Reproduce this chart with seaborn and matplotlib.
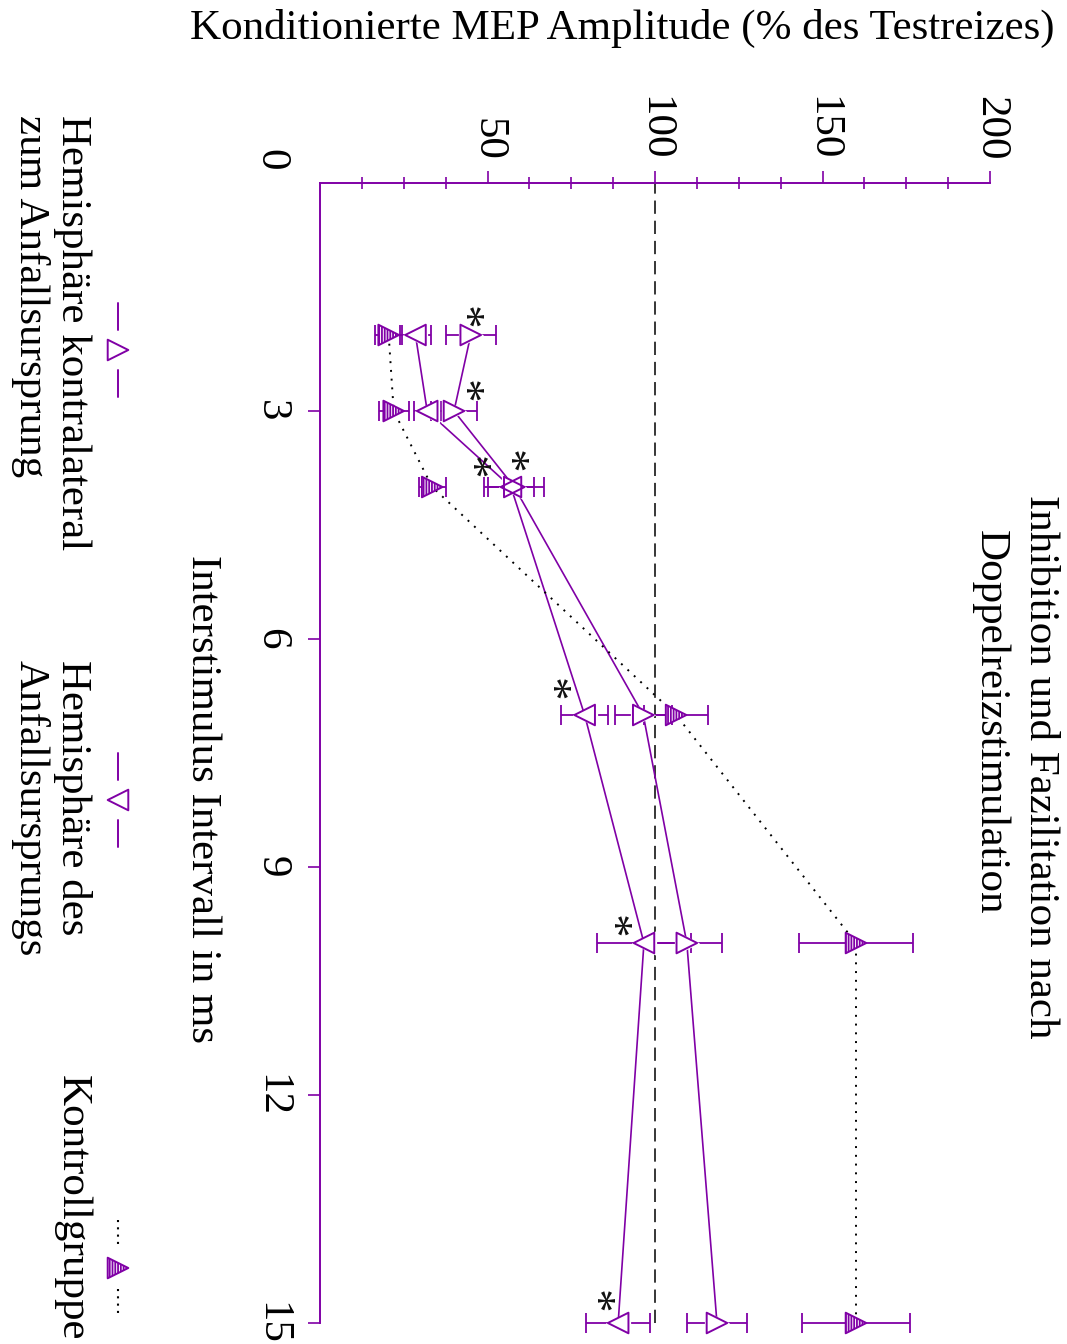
import matplotlib
matplotlib.use('Agg')
import matplotlib.pyplot as plt
import matplotlib.transforms as mtransforms
import seaborn as sns
import pandas as pd

# ISI in ms, conditioned MEP amplitude in % of test stimulus
isi = [2, 3, 4, 7, 10, 15]
contra = [45, 40, 58, 96.5, 109.5, 118.5]
contra_err = [7.5, 7, 9, 8.5, 10.5, 9]
ipsi = [28.5, 32, 57, 79, 96.7, 89]
ipsi_err = [4.5, 4, 7, 7, 14, 9.5]
control = [20.5, 22, 33.5, 106.3, 160, 160]
control_err = [4, 4.5, 4, 9.5, 17, 16]

# significance stars (amplitude, isi)
star_amp = [46, 46, 48, 59.5, 72, 90, 85]
star_isi = [1.78, 2.75, 3.75, 3.67, 6.67, 9.79, 14.72]

amp_ticks = [50, 100, 150, 200]
isi_ticks = [3, 6, 9, 12, 15]

purple = '#8000a6'
W, H = 1067, 1344

sns.set_style('white')
plt.rcParams['font.family'] = ['Liberation Serif', 'DejaVu Serif']
plt.rcParams['text.color'] = 'black'
plt.rcParams['xtick.labelcolor'] = 'black'
plt.rcParams['ytick.labelcolor'] = 'black'
plt.rcParams['hatch.color'] = purple
plt.rcParams['hatch.linewidth'] = 1.3

df = pd.DataFrame({'isi': isi * 3,
                   'amp': contra + ipsi + control,
                   'err': contra_err + ipsi_err + control_err,
                   'group': ['contra'] * 6 + ['ipsi'] * 6 + ['control'] * 6})

fig = plt.figure(figsize=(W / 100, H / 100), dpi=100)
ax = fig.add_axes([320 / W, 1 - 1323 / H, (990 - 320) / W, (1323 - 183) / H])

# reference line at 100 %
ax.axvline(100, color='black', lw=1.1, ls=(0, (8.7, 4.5)), zorder=1)

# connecting lines
sns.lineplot(data=df[df.group == 'contra'], x='amp', y='isi', orient='y',
             color=purple, lw=1.2, errorbar=None, ax=ax, zorder=2)
sns.lineplot(data=df[df.group == 'ipsi'], x='amp', y='isi', orient='y',
             color=purple, lw=1.2, errorbar=None, ax=ax, zorder=2)
sns.lineplot(data=df[df.group == 'control'], x='amp', y='isi', orient='y',
             color='#000000', lw=1.4, ls=(0, (1, 3.5)), errorbar=None, ax=ax, zorder=2)

# error bars
for g in ['contra', 'ipsi', 'control']:
    d = df[df.group == g]
    ax.errorbar(d.amp, d.isi, xerr=d.err, fmt='none', ecolor=purple,
                elinewidth=1.3, capsize=7, capthick=1.3, zorder=3, clip_on=False)

# markers: white backing then outlines
msize = 220
for g, m in [('contra', '>'), ('ipsi', '<')]:
    d = df[df.group == g]
    ax.scatter(d.amp, d.isi, s=msize * 1.5, marker=m, color='white',
               linewidths=0, zorder=4, clip_on=False)
for g, m in [('contra', '>'), ('ipsi', '<')]:
    d = df[df.group == g]
    sns.scatterplot(x=d.amp, y=d.isi, s=msize, marker=m, facecolor='none',
                    edgecolor=purple, linewidth=1.4, zorder=5, ax=ax, clip_on=False)
d = df[df.group == 'control']
ax.scatter(d.amp, d.isi, s=msize, marker='>', facecolor='white', edgecolor=purple,
           hatch='||||||', linewidths=1.4, zorder=5, clip_on=False)

# asterisk glyph sits high in its box, shift it back left after rotation
star_tr = mtransforms.offset_copy(ax.transData, fig=fig, x=-13, y=0, units='dots')
for a, i in zip(star_amp, star_isi):
    ax.text(a, i, '*', fontsize=34, color='#111111', ha='center', va='center',
            rotation=-90, transform=star_tr)

ax.set_xlim(0, 200)
ax.set_ylim(15, 0)
ax.set_xlabel('')
ax.set_ylabel('')
for s in ['bottom', 'right']:
    ax.spines[s].set_visible(False)
for s in ['top', 'left']:
    ax.spines[s].set_color(purple)
    ax.spines[s].set_linewidth(1.4)

ax.xaxis.tick_top()
ax.set_xticks(amp_ticks)
ax.set_xticks([v * 12.5 for v in range(1, 17) if v % 4], minor=True)
ax.set_xticklabels([str(v) for v in amp_ticks], rotation=-90, fontsize=31)
ax.tick_params(axis='x', which='major', direction='out', length=9, width=1.2,
               color=purple, pad=7, top=True, bottom=False)
ax.tick_params(axis='x', which='minor', direction='inout', length=8, width=1.2,
               color=purple, top=True, bottom=False)
ax.set_yticks(isi_ticks)
ax.set_yticklabels([str(v) for v in isi_ticks], rotation=-90, fontsize=31)
ax.tick_params(axis='y', which='major', direction='out', length=9, width=1.2,
               color=purple, pad=12, left=True)
for lab in ax.get_yticklabels():
    lab.set_va('center')
ax.text(-0.045, 1.02, '0', transform=ax.transAxes, fontsize=31, rotation=-90,
        ha='right', va='center')

# overlay in pixel coordinates for titles and legend
lax = fig.add_axes([0, 0, 1, 1])
lax.set_xlim(0, W)
lax.set_ylim(H, 0)
lax.axis('off')

lax.text(622, 28, 'Konditionierte MEP Amplitude (% des Testreizes)', fontsize=31,
         ha='center', va='center')
lax.text(1040, 495, 'Inhibition und Fazilitation nach', fontsize=31, rotation=-90,
         ha='center', va='top')
lax.text(990, 530, 'Doppelreizstimulation', fontsize=31, rotation=-90,
         ha='center', va='top')
lax.text(202, 555, 'Interstimulus Intervall in ms', fontsize=31, rotation=-90,
         ha='center', va='top')

lax.text(72, 115, 'Hemisphäre kontralateral', fontsize=31, rotation=-90, ha='center', va='top')
lax.text(30, 115, 'zum Anfallsursprung', fontsize=31, rotation=-90, ha='center', va='top')
lax.text(72, 660, 'Hemisphäre des', fontsize=31, rotation=-90, ha='center', va='top')
lax.text(30, 660, 'Anfallsursprungs', fontsize=31, rotation=-90, ha='center', va='top')
lax.text(72, 1075, 'Kontrollgruppe', fontsize=31, rotation=-90, ha='center', va='top')

for yc, m in [(350, '>'), (800, '<')]:
    lax.plot([118, 118], [yc - 47, yc - 20], color=purple, lw=1.4)
    lax.plot([118, 118], [yc + 20, yc + 47], color=purple, lw=1.4)
    lax.scatter([118], [yc], s=msize, marker=m, facecolor='none', edgecolor=purple,
                linewidths=1.4)
lax.plot([118, 118], [1220, 1247], color='#000000', lw=1.5, ls=(0, (1, 2.5)))
lax.plot([118, 118], [1289, 1316], color='#000000', lw=1.5, ls=(0, (1, 2.5)))
lax.scatter([118], [1268], s=msize, marker='>', facecolor='white', edgecolor=purple,
            hatch='||||||', linewidths=1.4)

plt.savefig('out.png', dpi=100)
